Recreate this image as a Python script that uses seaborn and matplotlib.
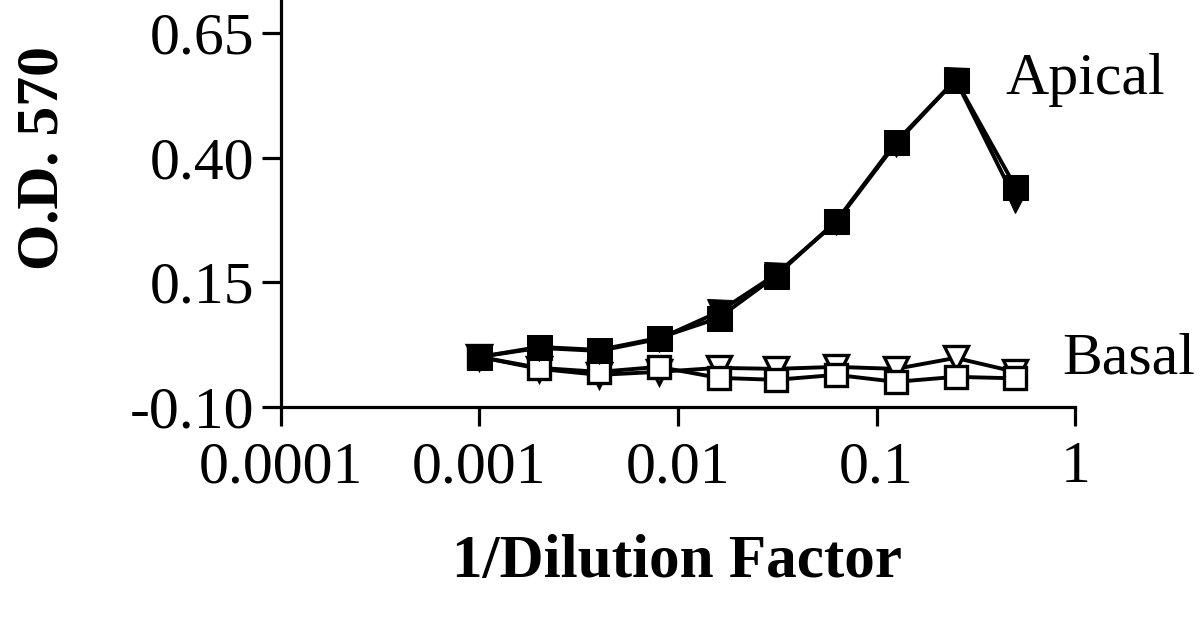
import pandas as pd
import matplotlib
matplotlib.use("Agg")
import matplotlib.pyplot as plt
import seaborn as sns

# dilution series (1/dilution factor)
dilution = [0.001, 0.002, 0.004, 0.008, 0.016, 0.031, 0.0625, 0.125, 0.25, 0.5]

# O.D. 570 readings
apical_sq = [0.0, 0.02, 0.014, 0.038, 0.078, 0.162, 0.272, 0.431, 0.556, 0.341]
apical_tri = [0.0, 0.018, 0.012, 0.036, 0.09, 0.165, 0.27, 0.428, 0.556, 0.315]
basal_sq = [0.0, -0.022, -0.03, -0.02, -0.042, -0.046, -0.036, -0.05, -0.04, -0.043]
basal_tri = [0.0, -0.024, -0.036, -0.03, -0.022, -0.024, -0.02, -0.024, -0.002, -0.03]

y_ticks = [-0.10, 0.15, 0.40, 0.65]
x_ticks = [0.0001, 0.001, 0.01, 0.1, 1]
x_tick_labels = ["0.0001", "0.001", "0.01", "0.1", "1"]

sns.set_style("ticks")
plt.rcParams['font.family'] = ['Liberation Serif', 'DejaVu Serif']
plt.rcParams['text.color'] = 'black'
plt.rcParams['xtick.color'] = 'black'
plt.rcParams['ytick.color'] = 'black'
plt.rcParams['axes.edgecolor'] = 'black'

fig = plt.figure(figsize=(12, 6.21), dpi=100)
ax = fig.add_axes([0.234, 0.345, 0.662, 0.655])

lw = 2.8
# basal first so apical sits on top
sns.lineplot(x=dilution, y=basal_tri, ax=ax, color='black', lw=lw, marker='v',
             markersize=17, markerfacecolor='white', markeredgecolor='black',
             markeredgewidth=2.4, zorder=2)
sns.lineplot(x=dilution, y=basal_sq, ax=ax, color='black', lw=lw, marker='s',
             markersize=16, markerfacecolor='white', markeredgecolor='black',
             markeredgewidth=2.4, zorder=3)
sns.lineplot(x=dilution, y=apical_tri, ax=ax, color='black', lw=lw, marker='v',
             markersize=18, markerfacecolor='black', markeredgecolor='black', zorder=4)
sns.lineplot(x=dilution, y=apical_sq, ax=ax, color='black', lw=lw, marker='s',
             markersize=18, markerfacecolor='black', markeredgecolor='black', zorder=5)

ax.set_xscale('log')
ax.set_xlim(0.0001, 1)
ax.set_ylim(-0.10, 0.716)
ax.set_xticks(x_ticks)
ax.set_xticklabels(x_tick_labels)
ax.set_yticks(y_ticks)
ax.set_yticklabels([f"{v:.2f}" for v in y_ticks])
ax.minorticks_off()
ax.tick_params(axis='both', labelsize=43, width=2.3, length=14, direction='out',
               colors='black')
ax.tick_params(axis='x', pad=11)
ax.tick_params(axis='y', pad=5)
for s in ['left', 'bottom']:
    ax.spines[s].set_linewidth(2.3)
sns.despine(ax=ax)
ax.set_xlabel("")
ax.set_ylabel("")

ax.text(0.446, 0.556, "Apical", fontsize=43, va='center', ha='left')
ax.text(0.86, -0.006, "Basal", fontsize=43, va='center', ha='left')

fig.text(0.564, 0.095, "1/Dilution Factor", fontsize=44, fontweight='bold',
         ha='center', va='center')
fig.text(0.036, 0.746, "O.D. 570", fontsize=43, fontweight='bold',
         rotation=90, ha='center', va='center')

fig.savefig("out.png", dpi=100)
